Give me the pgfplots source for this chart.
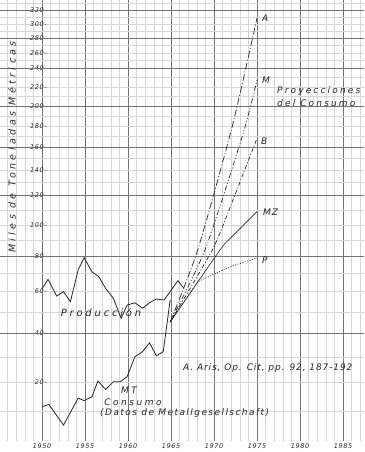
\documentclass[border=0pt]{standalone}
\usepackage{pgfplots}
\pgfplotsset{compat=1.18}
\usepackage{fontspec}
\setmainfont{DejaVu Sans}
\newfontfamily\hand{DejaVu Sans}
\newcommand\hw[2]{\hand\itshape\fontsize{#1}{#1}\selectfont\addfontfeature{LetterSpace=#2}}
\definecolor{ink}{gray}{0.15}
\definecolor{majgrid}{gray}{0.45}
\definecolor{mingrid}{gray}{0.84}

\pgfplotstableread{
year val
1950.0 61.1
1950.7 66.7
1951.7 57.6
1952.5 59.7
1953.3 54.9
1954.2 72.0
1954.9 79.0
1955.8 71.0
1956.6 68.2
1957.4 61.5
1958.3 56.5
1959.2 47.0
1959.9 53.3
1960.8 54.4
1961.7 51.8
1962.5 54.4
1963.3 56.2
1964.2 55.7
1965.8 65.9
1966.5 61.5
}\produccion

\pgfplotstableread{
year val
1950.0 11.6
1950.8 12.4
1952.5 5.4
1954.2 14.5
1954.9 13.7
1955.8 15.0
1956.5 20.4
1957.4 17.5
1958.3 20.1
1959.1 20.1
1959.9 22.2
1960.8 30.3
1961.7 32.4
1962.5 36.0
1963.3 30.7
1964.1 32.4
1964.9 55.7
}\consumo

\begin{document}
\begin{tikzpicture}
\begin{axis}[
  scale only axis, width=364pt, height=441pt,
  xmin=1945.116, xmax=1987.442, ymin=0, ymax=334.3,
  y coord trafo/.code={\pgfmathparse{2.95*(#1) - 0.5*max((#1)-20,0) - 0.35*max((#1)-40,0) - 0.35*max((#1)-60,0) - 0.2*max((#1)-80,0) - 0.05*max((#1)-100,0) - 0.25*max((#1)-120,0) - 0.1*max((#1)-140,0) - 0.1*max((#1)-160,0) - 0.05*max((#1)-180,0) - 0.05*max((#1)-200,0) - 0.2*max((#1)-240,0) - 0.05*max((#1)-280,0)}},
  axis line style={draw=none},
  xtick={1950,1955,...,1985},
  xticklabels={1950,1955,1960,1965,1970,1975,1980,1985},
  minor xtick={1946,...,1987},
  xmajorgrids, xminorgrids,
  ytick={20,40,...,320},
  yticklabels={20-,40-,60-,80-,100-,120-,140-,160-,180-,200-,220-,240-,260-,280-,300-,320-},
  minor ytick={10,20,...,330},
  yminorgrids,
  extra y ticks={40,80,...,320},
  extra y tick labels={},
  extra y tick style={grid=major},
  major grid style={majgrid, line width=0.7pt},
  minor grid style={mingrid, line width=0.3pt},
  major tick length=0pt, minor tick length=0pt,
  tick label style={font=\hw{6.5}{10}, text=ink},
  yticklabel style={anchor=east, xshift=47pt, inner sep=0pt},
  xticklabel style={anchor=north, yshift=-2pt, inner sep=0pt},
  clip=false,
]
\addplot[ink, line width=0.8pt] table {\produccion};
\addplot[ink, line width=0.8pt] table {\consumo};
% A
\addplot[ink, line width=0.7pt, smooth, tension=0.4, dash pattern=on 7pt off 2pt on 1pt off 2pt] coordinates {(1964.9,45.2) (1968.1,83.9) (1972.1,179) (1975.0,308.6)};
% M
\addplot[ink, line width=0.7pt, smooth, tension=0.4, dash pattern=on 5pt off 2pt on 1pt off 2pt on 1pt off 2pt] coordinates {(1964.9,45.2) (1968.95,83.9) (1973.4,173.3) (1975.0,227.4)};
% B
\addplot[ink, line width=0.7pt, smooth, tension=0.4, dash pattern=on 4pt off 2pt on 1pt off 2pt] coordinates {(1964.9,45.2) (1969.8,83.9) (1971.9,112.2) (1975.0,168.3)};
% MZ
\addplot[ink, line width=0.6pt, smooth, tension=0.4] coordinates {(1964.9,45.2) (1970.7,83.9) (1971.9,91.4) (1975.0,108.9)};
% P
\addplot[ink, line width=0.7pt, dash pattern=on 1pt off 1.5pt] coordinates {(1964.9,45.2) (1968.1,65.3) (1971.9,73.9) (1975.0,78.9)};
\end{axis}
\begin{scope}[every node/.style={text=ink, inner sep=0pt}]
\node[font=\hw{10}{28}] at (101pt,128pt) {Producción};
\node[font=\hw{9}{28}] at (129pt,51pt) {MT};
\node[font=\hw{9}{28}] at (133pt,39pt) {Consumo};
\node[anchor=west, font=\hw{9}{16}] at (100pt,28pt) {(Datos de Metallgesellschaft)};
\node[anchor=west, font=\hw{9}{10}] at (183pt,73pt) {A. Aris, Op. Cit, pp. 92, 187-192};
\node[anchor=west, font=\hw{9}{24}] at (277pt,350pt) {Proyecciones};
\node[anchor=west, font=\hw{9}{24}] at (277pt,338pt) {del Consumo};
\node[anchor=west, font=\hw{9}{10}] at (262pt,423pt) {A};
\node[anchor=west, font=\hw{9}{10}] at (262pt,361pt) {M};
\node[anchor=west, font=\hw{9}{10}] at (261pt,300pt) {B};
\node[anchor=west, font=\hw{9}{10}] at (263pt,229pt) {MZ};
\node[anchor=west, font=\hw{9}{10}] at (262pt,181pt) {P};
\node[rotate=90, font=\hw{9.5}{36}] at (12pt,294pt) {Miles de Toneladas Métricas};
\end{scope}
\pgfresetboundingbox
\useasboundingbox (0,-11pt) rectangle (364pt,441pt);
\end{tikzpicture}
\end{document}
